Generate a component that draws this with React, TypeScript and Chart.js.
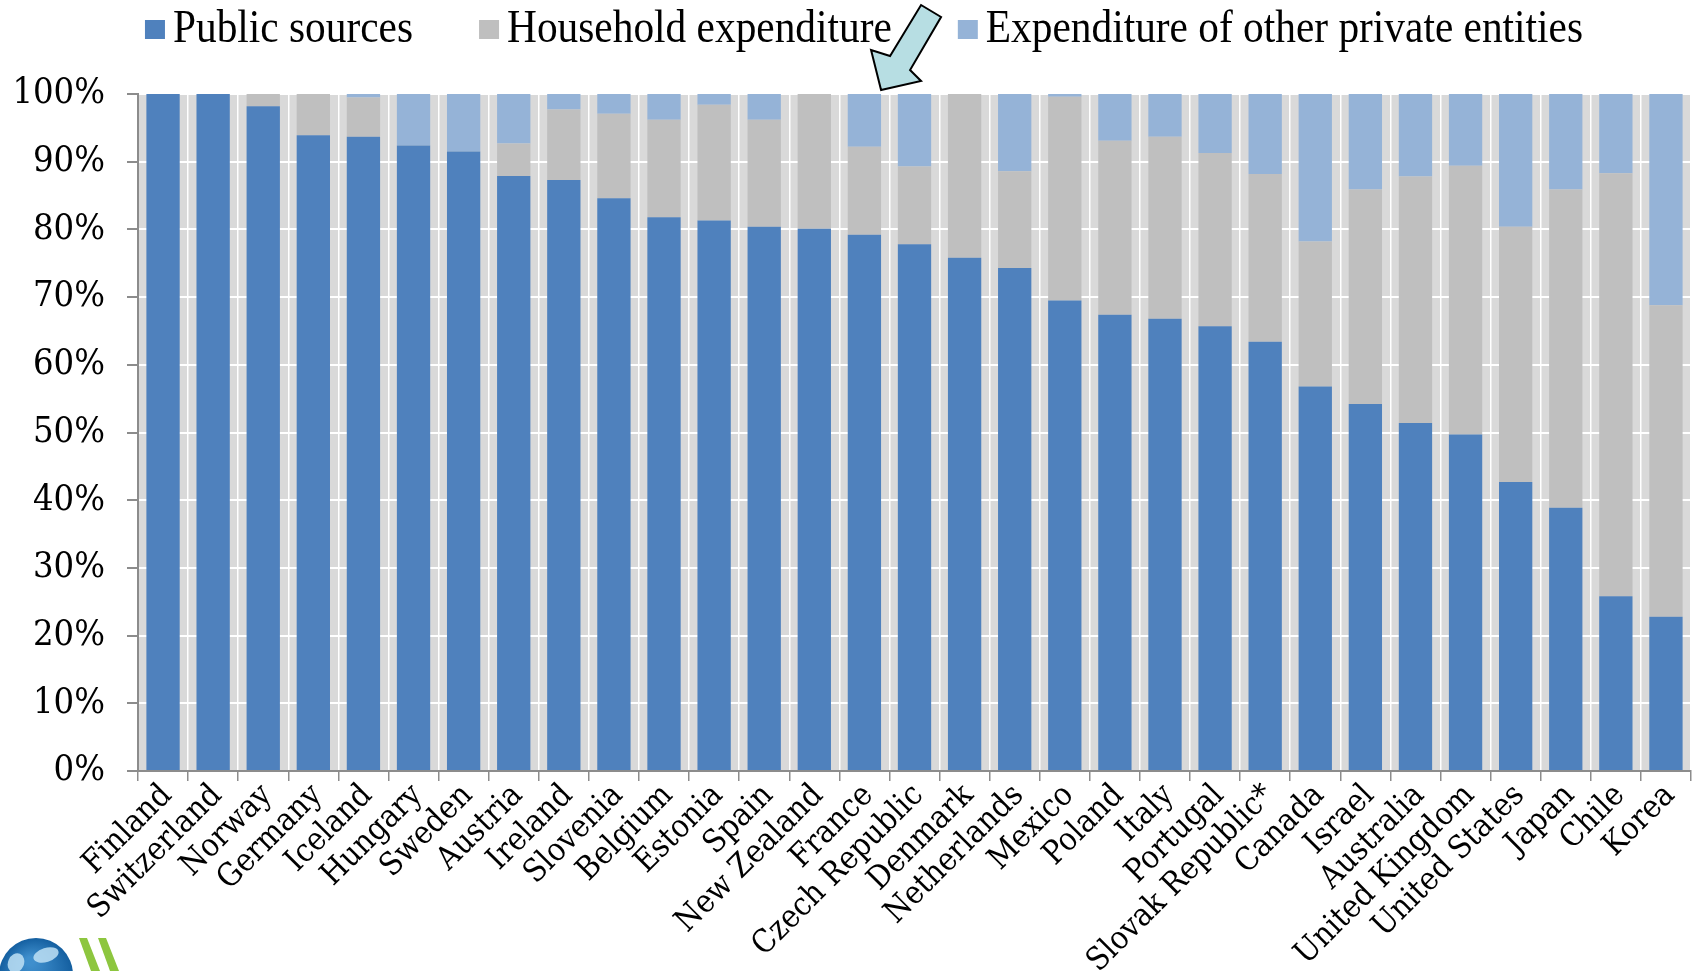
import React, { useEffect, useRef } from 'react';
import { Chart, registerables } from 'chart.js';

Chart.register(...registerables);

const countries = [
  'Finland', 'Switzerland', 'Norway', 'Germany', 'Iceland', 'Hungary', 'Sweden', 'Austria',
  'Ireland', 'Slovenia', 'Belgium', 'Estonia', 'Spain', 'New Zealand', 'France', 'Czech Republic',
  'Denmark', 'Netherlands', 'Mexico', 'Poland', 'Italy', 'Portugal', 'Slovak Republic*', 'Canada',
  'Israel', 'Australia', 'United Kingdom', 'United States', 'Japan', 'Chile', 'Korea',
];

const publicSources = [
  100, 100, 98.2, 93.9, 93.7, 92.4, 91.5, 87.9, 87.3, 84.6, 81.8, 81.3, 80.4, 80.1, 79.2, 77.8,
  75.8, 74.3, 69.5, 67.4, 66.8, 65.7, 63.4, 56.8, 54.2, 51.4, 49.7, 42.7, 38.9, 25.8, 22.8,
];

const householdExpenditure = [
  0, 0, 1.8, 6.1, 5.8, 0, 0, 4.8, 10.4, 12.5, 14.4, 17.1, 15.8, 19.9, 13.0, 11.5,
  24.2, 14.3, 30.1, 25.7, 26.9, 25.6, 24.8, 21.4, 31.7, 36.4, 39.7, 37.7, 47.0, 62.5, 46.0,
];

const otherPrivate = [
  0, 0, 0, 0, 0.5, 7.6, 8.5, 7.3, 2.3, 2.9, 3.8, 1.6, 3.8, 0, 7.8, 10.7,
  0, 11.4, 0.4, 6.9, 6.3, 8.7, 11.8, 21.8, 14.1, 12.2, 10.6, 19.6, 14.1, 11.7, 31.2,
];

const seriesLabels = ['Public sources', 'Household expenditure', 'Expenditure of other private entities'];
const seriesColors = ['#4F81BD', '#BFBFBF', '#95B3D7'];
const yTickValues = [0, 10, 20, 30, 40, 50, 60, 70, 80, 90, 100];
const arrowCategory = 'France';

const axisFont = '"DejaVu Serif Condensed", "DejaVu Serif", serif';

const plotBgPlugin = {
  id: 'plotBg',
  beforeDraw(chart: any) {
    const { ctx, chartArea } = chart;
    ctx.save();
    ctx.fillStyle = '#D9D9D9';
    ctx.fillRect(chartArea.left, chartArea.top, chartArea.right - chartArea.left, chartArea.bottom - chartArea.top);
    ctx.restore();
  },
};

const legendPlugin = {
  id: 'customLegend',
  afterDraw(chart: any) {
    const ctx = chart.ctx;
    ctx.save();
    const fontSize = 47;
    const sx = 0.88;
    ctx.font = `${fontSize}px "Liberation Serif"`;
    const box = 20;
    const gapText = 8;
    const gapItem = 66;
    const items = chart.data.datasets.map((d: any) => ({
      label: d.label,
      color: d.backgroundColor,
      w: ctx.measureText(d.label).width * sx,
    }));
    const total = items.reduce((s: number, it: any) => s + box + gapText + it.w, 0) + gapItem * (items.length - 1);
    let x = 864 - total / 2;
    const baseline = 42;
    ctx.textBaseline = 'alphabetic';
    ctx.textAlign = 'left';
    items.forEach((it: any) => {
      ctx.fillStyle = it.color;
      ctx.fillRect(x, 20, box, 19);
      ctx.save();
      ctx.translate(x + box + gapText, baseline);
      ctx.scale(sx, 1);
      ctx.fillStyle = '#000000';
      ctx.fillText(it.label, 0, 0);
      ctx.restore();
      x += box + gapText + it.w + gapItem;
    });
    ctx.restore();
  },
};

const arrowPlugin = {
  id: 'arrowNote',
  afterDraw(chart: any) {
    const { ctx, chartArea } = chart;
    const idx = countries.indexOf(arrowCategory);
    const meta = chart.getDatasetMeta(0);
    const bar: any = meta.data[idx];
    const tipX = bar.x + bar.width / 2;
    const tipY = chartArea.top - 4;
    const pts = [
      [0, 0], [-10, -40], [9, -34], [40, -85], [60, -73], [29, -20], [40, -9],
    ];
    ctx.save();
    ctx.beginPath();
    pts.forEach(([dx, dy], i) => {
      if (i === 0) ctx.moveTo(tipX + dx, tipY + dy);
      else ctx.lineTo(tipX + dx, tipY + dy);
    });
    ctx.closePath();
    ctx.fillStyle = '#B7DEE3';
    ctx.fill();
    ctx.lineWidth = 2;
    ctx.strokeStyle = '#000000';
    ctx.lineJoin = 'miter';
    ctx.stroke();
    ctx.restore();
  },
};

const logoPlugin = {
  id: 'logo',
  afterDraw(chart: any) {
    const ctx = chart.ctx;
    const h = chart.height;
    ctx.save();
    const cx = 36;
    const cy = h + 4;
    const r = 37;
    const g = ctx.createRadialGradient(cx - 6, cy - 14, 4, cx, cy, r);
    g.addColorStop(0, '#3F8FCD');
    g.addColorStop(1, '#145FA0');
    ctx.beginPath();
    ctx.arc(cx, cy, r, 0, Math.PI * 2);
    ctx.fillStyle = g;
    ctx.fill();
    ctx.fillStyle = 'rgba(190,225,245,0.85)';
    ctx.beginPath();
    ctx.ellipse(cx + 10, cy - 20, 13, 7, -0.3, 0, Math.PI * 2);
    ctx.fill();
    ctx.beginPath();
    ctx.ellipse(cx - 20, cy - 12, 8, 10, 0.4, 0, Math.PI * 2);
    ctx.fill();
    ctx.fillStyle = '#8DC63F';
    const stripes = [79, 98];
    stripes.forEach((sx) => {
      ctx.beginPath();
      ctx.moveTo(sx, h - 33);
      ctx.lineTo(sx + 8, h - 33);
      ctx.lineTo(sx + 21, h);
      ctx.lineTo(sx + 12, h);
      ctx.closePath();
      ctx.fill();
    });
    ctx.restore();
  },
};

export default function App() {
  const canvasRef = useRef<HTMLCanvasElement | null>(null);

  useEffect(() => {
    if (!canvasRef.current) return;
    const chart = new Chart(canvasRef.current, {
      type: 'bar',
      data: {
        labels: countries,
        datasets: [
          { label: seriesLabels[0], data: publicSources, backgroundColor: seriesColors[0] },
          { label: seriesLabels[1], data: householdExpenditure, backgroundColor: seriesColors[1] },
          { label: seriesLabels[2], data: otherPrivate, backgroundColor: seriesColors[2] },
        ],
      },
      options: {
        animation: false,
        responsive: false,
        maintainAspectRatio: false,
        layout: { padding: { top: 94, right: 5, left: 0, bottom: 0 } },
        datasets: { bar: { categoryPercentage: 1, barPercentage: 0.665, borderWidth: 0 } },
        plugins: {
          legend: { display: false },
          tooltip: { enabled: false },
        },
        scales: {
          x: {
            stacked: true,
            grid: {
              offset: true,
              color: '#FFFFFF',
              lineWidth: 1.5,
              tickColor: '#8C8C8C',
              tickLength: 10,
            },
            border: { color: '#8C8C8C', width: 2 },
            ticks: {
              autoSkip: false,
              minRotation: 45,
              maxRotation: 45,
              color: '#000000',
              padding: -4,
              labelOffset: 4,
              font: { family: axisFont, size: 32 },
            },
            afterFit(scale: any) {
              scale.height = 200;
            },
          },
          y: {
            stacked: true,
            min: 0,
            max: 100,
            afterBuildTicks(scale: any) {
              scale.ticks = yTickValues.map((v) => ({ value: v }));
            },
            ticks: {
              color: '#000000',
              padding: 22,
              font: { family: axisFont, size: 36 },
              callback: (v: any) => `${v}%`,
            },
            grid: {
              color: '#FFFFFF',
              lineWidth: 2,
              tickColor: '#8C8C8C',
              tickLength: 11,
            },
            border: { color: '#8C8C8C', width: 2 },
            afterFit(scale: any) {
              scale.width = 138;
            },
          },
        },
      },
      plugins: [plotBgPlugin, legendPlugin, arrowPlugin, logoPlugin],
    });
    return () => chart.destroy();
  }, []);

  return (
    <div style={{ position: 'fixed', left: 0, top: 0, width: 1696, height: 971, background: '#FFFFFF' }}>
      <canvas ref={canvasRef} width={1696} height={971} style={{ display: 'block' }} />
    </div>
  );
}
